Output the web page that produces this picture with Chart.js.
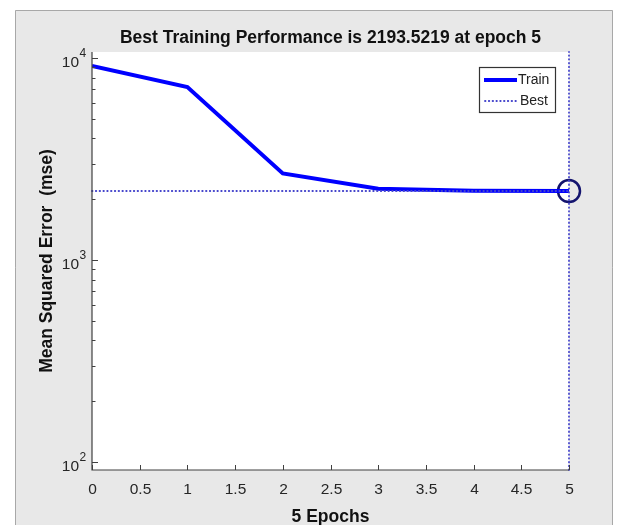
<!DOCTYPE html>
<html>
<head>
<meta charset="utf-8">
<script src="https://cdn.jsdelivr.net/npm/chart.js@4"></script>
<style>
  html, body { margin: 0; padding: 0; background: #fff; }
  canvas { display: block; }
</style>
</head>
<body>
<canvas id="perfChart" width="619" height="525"></canvas>
<script>
// training record
const epochs = [0, 1, 2, 3, 4, 5];
const trainMse = [9120, 7180, 2680, 2250, 2200, 2193.5219];
const bestEpoch = 5;
const bestPerf = 2193.5219;

const xTicks = [0, 0.5, 1, 1.5, 2, 2.5, 3, 3.5, 4, 4.5, 5];
const yDecades = [100, 1000, 10000];
const yMin = 91.2, yMax = 10700;

const titleText = 'Best Training Performance is 2193.5219 at epoch 5';
const xTitle = '5 Epochs';
const yTitle = 'Mean Squared Error  (mse)';

const FONT = '"Liberation Sans", Arial, Helvetica, sans-serif';
const dotted = [0.5, 3.3];
const dotColor = '#4646cc';

// figure background + white axes area
const backdrop = {
    id: 'backdrop',
    beforeDraw(chart) {
        const { ctx, chartArea: a, width, height } = chart;
        ctx.save();
        ctx.fillStyle = '#fff';
        ctx.fillRect(0, 0, width, height);
        ctx.fillStyle = '#e8e8e8';
        ctx.fillRect(15, 10, 598, height - 10);
        ctx.strokeStyle = '#a8a8a8';
        ctx.lineWidth = 1;
        ctx.beginPath();
        ctx.moveTo(15.5, height); ctx.lineTo(15.5, 10.5); ctx.lineTo(612.5, 10.5); ctx.lineTo(612.5, height);
        ctx.stroke();
        ctx.fillStyle = '#fff';
        ctx.fillRect(a.left, a.top, a.right - a.left, a.bottom - a.top);
        ctx.restore();
    }
};

// matlab style axes, ticks, labels, titles and legend
const decor = {
    id: 'decor',
    afterDraw(chart) {
        const { ctx, chartArea: a } = chart;
        const xs = chart.scales.x, ys = chart.scales.y;
        ctx.save();
        ctx.strokeStyle = '#404040';
        ctx.lineWidth = 1.2;
        ctx.beginPath();
        ctx.moveTo(a.left, a.top); ctx.lineTo(a.left, a.bottom); ctx.lineTo(a.right, a.bottom);
        ctx.stroke();

        // x ticks
        ctx.lineWidth = 1;
        ctx.fillStyle = '#262626';
        ctx.font = '15.5px ' + FONT;
        ctx.textAlign = 'center';
        ctx.textBaseline = 'middle';
        xTicks.forEach(v => {
            const px = Math.round(xs.getPixelForValue(v)) + 0.5;
            ctx.beginPath(); ctx.moveTo(px, a.bottom); ctx.lineTo(px, a.bottom - 5); ctx.stroke();
            ctx.fillText(String(v), px, a.bottom + 20);
        });

        // y ticks (log, with minors)
        for (let d = 0; d < yDecades.length; d++) {
            const base = yDecades[d];
            const py = Math.round(ys.getPixelForValue(base)) + 0.5;
            ctx.beginPath(); ctx.moveTo(a.left, py); ctx.lineTo(a.left + 6, py); ctx.stroke();
            const exp = Math.round(Math.log10(base));
            ctx.textAlign = 'right';
            ctx.font = '15.5px ' + FONT;
            ctx.fillText('10', a.left - 13, py + 4);
            ctx.textAlign = 'left';
            ctx.font = '12px ' + FONT;
            ctx.fillText(String(exp), a.left - 12.5, py - 5);
            if (d < yDecades.length - 1) {
                for (let k = 2; k <= 9; k++) {
                    const my = Math.round(ys.getPixelForValue(base * k)) + 0.5;
                    ctx.beginPath(); ctx.moveTo(a.left, my); ctx.lineTo(a.left + 3.5, my); ctx.stroke();
                }
            }
        }

        // titles
        ctx.fillStyle = '#111';
        ctx.font = 'bold 17.5px ' + FONT;
        ctx.textAlign = 'center';
        ctx.textBaseline = 'alphabetic';
        const cx = (a.left + a.right) / 2;
        ctx.fillText(titleText, cx, 43);
        ctx.fillText(xTitle, cx, 522);
        ctx.save();
        ctx.translate(52, (a.top + a.bottom) / 2);
        ctx.rotate(-Math.PI / 2);
        ctx.fillText(yTitle, 0, 0);
        ctx.restore();

        // legend
        ctx.fillStyle = '#fff';
        ctx.fillRect(479.5, 67.5, 76, 45);
        ctx.strokeStyle = '#333';
        ctx.lineWidth = 1.2;
        ctx.strokeRect(479.5, 67.5, 76, 45);
        ctx.strokeStyle = '#0000ff';
        ctx.lineWidth = 4;
        ctx.beginPath(); ctx.moveTo(484, 80); ctx.lineTo(517, 80); ctx.stroke();
        ctx.strokeStyle = dotColor;
        ctx.lineWidth = 1.8;
        ctx.lineCap = 'round';
        ctx.setLineDash(dotted);
        ctx.beginPath(); ctx.moveTo(485, 101); ctx.lineTo(517, 101); ctx.stroke();
        ctx.setLineDash([]);
        ctx.fillStyle = '#222';
        ctx.font = '14px ' + FONT;
        ctx.textAlign = 'left';
        ctx.textBaseline = 'middle';
        ctx.fillText('Train', 518, 80);
        ctx.fillText('Best', 520, 101);
        ctx.restore();
    }
};

const bestLine = { borderColor: dotColor, borderWidth: 1.8, borderDash: dotted, borderCapStyle: 'round', pointRadius: 0, clip: false };

new Chart(document.getElementById('perfChart').getContext('2d'), {
    type: 'line',
    data: {
        datasets: [
            { label: 'Best', data: [{ x: 0, y: bestPerf }, { x: bestEpoch, y: bestPerf }], ...bestLine },
            { label: 'BestV', data: [{ x: bestEpoch, y: yMin }, { x: bestEpoch, y: yMax }], ...bestLine },
            { label: 'Train', data: epochs.map((e, i) => ({ x: e, y: trainMse[i] })), borderColor: '#0000ff', borderWidth: 4, pointRadius: 0, tension: 0 },
            { label: 'Goal', data: [{ x: bestEpoch, y: bestPerf }], showLine: false, pointRadius: 11, pointBorderWidth: 2.5, pointBorderColor: '#14146e', pointBackgroundColor: 'rgba(0,0,0,0)', clip: false }
        ]
    },
    options: {
        responsive: false,
        animation: false,
        layout: { padding: { left: 92, right: 50, top: 52, bottom: 55 } },
        plugins: { legend: { display: false }, title: { display: false }, tooltip: { enabled: false } },
        scales: {
            x: { type: 'linear', min: 0, max: 5, display: false },
            y: { type: 'logarithmic', min: yMin, max: yMax, display: false }
        }
    },
    plugins: [backdrop, decor]
});
</script>
</body>
</html>
